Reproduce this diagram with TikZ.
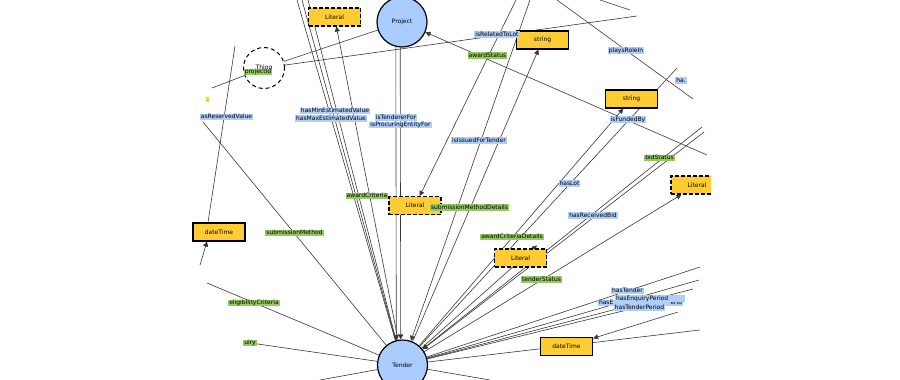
\documentclass[tikz,border=0pt]{standalone}
\usepackage{fontspec}
\setmainfont{DejaVu Sans}
\usetikzlibrary{arrows.meta,backgrounds}
\definecolor{cblue}{RGB}{170,204,255}
\definecolor{lblue}{RGB}{176,206,250}
\definecolor{lgreen}{RGB}{150,200,100}
\definecolor{cyel}{RGB}{255,204,51}
\definecolor{edgec}{RGB}{55,55,55}
\begin{document}
\begin{tikzpicture}[x=1pt,y=-1pt,
  font=\fontsize{6}{7}\selectfont,
  cls/.style={circle, draw=black, line width=1.2pt, fill=cblue, minimum size=50pt, inner sep=0pt},
  thingc/.style={circle, draw=black, line width=1pt, dash pattern=on 4pt off 3pt, minimum size=41pt, inner sep=0pt},
  dtype/.style={rectangle, draw=black, line width=1.1pt, fill=cyel, minimum width=52pt, minimum height=18pt, inner sep=0pt},
  dlit/.style={dtype, dash pattern=on 4pt off 2pt},
  lblb/.style={fill=lblue, inner xsep=1pt, inner ysep=0.5pt, text height=4.6pt, text depth=1.3pt},
  lblg/.style={lblb, fill=lgreen},
  ln/.style={draw=edgec, line width=0.6pt},
  lna/.style={ln, -{Triangle[length=5pt,width=5pt]}},
]
\useasboundingbox (0,0) rectangle (900,380);

% nodes
\node[cls] (project) at (402,22) {Project};
\node[cls] (tender) at (402.5,365) {Tender};
\node[thingc] (thing) at (264,68) {Thing};
\node[dlit] (lit1) at (334.5,17) {Literal};
\node[dtype] (str1) at (542.5,40) {string};
\node[dtype] (str2) at (631.5,99) {string};
\node[dlit] (lit2) at (415,205.5) {Literal};
\begin{scope}
  \clip (0,0) rectangle (711,380);
  \node[dlit] (lit3) at (697,185) {Literal};
\end{scope}
\node[dlit] (lit4) at (520.5,258) {Literal};
\node[dtype] (dt1) at (219,232) {dateTime};
\node[dtype] (dt2) at (566.5,346.5) {dateTime};

% free ends
\coordinate (t1) at (297,0);
\coordinate (t2) at (302,0);
\coordinate (t3) at (308,0);
\coordinate (t4) at (516,0);
\coordinate (t5) at (530,0);
\coordinate (t6) at (557,0);
\coordinate (t7) at (600,0);
\coordinate (epr) at (693,99);
\coordinate (et7) at (630,10);
\coordinate (eth) at (637,16);
\coordinate (elot) at (677,68);
\coordinate (epj) at (707,155);
\coordinate (ebs1) at (702,127);
\coordinate (ebs2) at (704,132);
\coordinate (er1) at (700,267);
\coordinate (er2) at (699,280);
\coordinate (er3) at (693,289);
\coordinate (er4) at (684,296);
\coordinate (er5) at (700,330);
\coordinate (edt) at (678,312);
\coordinate (eb1) at (490,380);
\coordinate (el1) at (207,283);
\coordinate (el2) at (244,342);
\coordinate (el3) at (320,380);
\coordinate (el4) at (203,122);
\coordinate (el5) at (235,46);
\coordinate (el6) at (200,265);
\coordinate (el7) at (212,88);

\begin{scope}[on background layer]
  \draw[ln] (t1) -- (tender);
  \draw[ln] (t2) -- (tender);
  \draw[ln] (t3) -- (tender);
  \draw[lna] (project.256) -- (tender.104);
  \draw[lna] (project.266) -- (tender.94);
  \draw[lna] (tender.100) -- (lit1);
  \draw[lna] (t4) -- (lit2);
  \draw[lna] (t5) -- (tender);
  \draw[lna] (tender) -- (str1);
  \draw[lna] (tender) -- (str2);
  \draw[ln] (tender) -- (elot);
  \draw[ln] (t6) -- (epr);
  \draw[ln] (t7) -- (et7);
  \draw[ln] (thing) -- (eth);
  \draw[ln] (thing) -- (project);
  \draw[ln] (el7) -- (thing);
  \draw[lna] (epj) -- (project);
  \draw[lna] (ebs1) -- (tender);
  \draw[lna] (ebs2) -- (tender);
  \draw[lna] (tender) -- (lit3);
  \draw[lna] (tender) -- ([xshift=16.5pt,yshift=3pt]lit4.north);
  \draw[ln] (tender) -- (er1);
  \draw[ln] (tender) -- (er2);
  \draw[ln] (tender) -- (er3);
  \draw[ln] (tender) -- (er4);
  \draw[ln] (tender) -- (er5);
  \draw[ln] (tender) -- (eb1);
  \draw[lna] (edt) -- (dt2);
  \draw[ln] (el1) -- (tender);
  \draw[ln] (el2) -- (tender);
  \draw[ln] (el3) -- (tender);
  \draw[ln] (el4) -- (tender);
  \draw[ln] (el5) -- ([xshift=-11pt]dt1.north);
  \draw[lna] (el6) -- ([xshift=-12pt]dt1.south);
\end{scope}

\fill[cyel] (206,97) rectangle (208.5,102);

% labels
\node[lblb] at (226.5,117) {asReservedValue};
\node[lblb] at (335,111) {hasMinEstimatedValue};
\node[lblb] at (331,118.5) {hasMaxEstimatedValue};
\node[lblb] at (396,117.5) {isTendererFor};
\node[lblb] at (400.5,125) {isProcuringEntityFor};
\node[lblb] at (497,34.5) {isRelatedToLot};
\node[lblg] at (487.5,55.5) {awardStatus};
\node[lblb] at (626,50.5) {playsRoleIn};
\node[lblb] at (681,80.5) {ha.};
\node[lblb] at (628,119.5) {isFundedBy};
\node[lblb] at (479,140.5) {isIssuedForTender};
\node[lblg] at (659.5,158) {bidStatus};
\node[lblb] at (569.5,183.5) {hasLot};
\node[lblg] at (367,196) {awardCriteria};
\node[lblg] at (469.5,207.5) {submissionMethodDetails};
\node[lblb] at (593,215.5) {hasReceivedBid};
\node[lblg] at (294.5,233) {submissionMethod};
\node[lblg] at (512,237) {awardCriteriaDetails};
\node[lblg] at (541.5,279.5) {tenderStatus};
\node[lblg] at (254,303) {eligibilityCriteria};
\node[lblg] at (250,343) {uiry};
\node[lblg] at (258,72) {projectId};
\node[lblb, text width=83pt] at (640.5,303) {hasE\hfill erio};
\node[lblb] at (627.5,291) {hasTender};
\node[lblb, text width=68pt] at (650,298.5) {hasEnquiryPeriod};
\node[lblb] at (639.5,308) {hasTenderPeriod};
\end{tikzpicture}
\end{document}
